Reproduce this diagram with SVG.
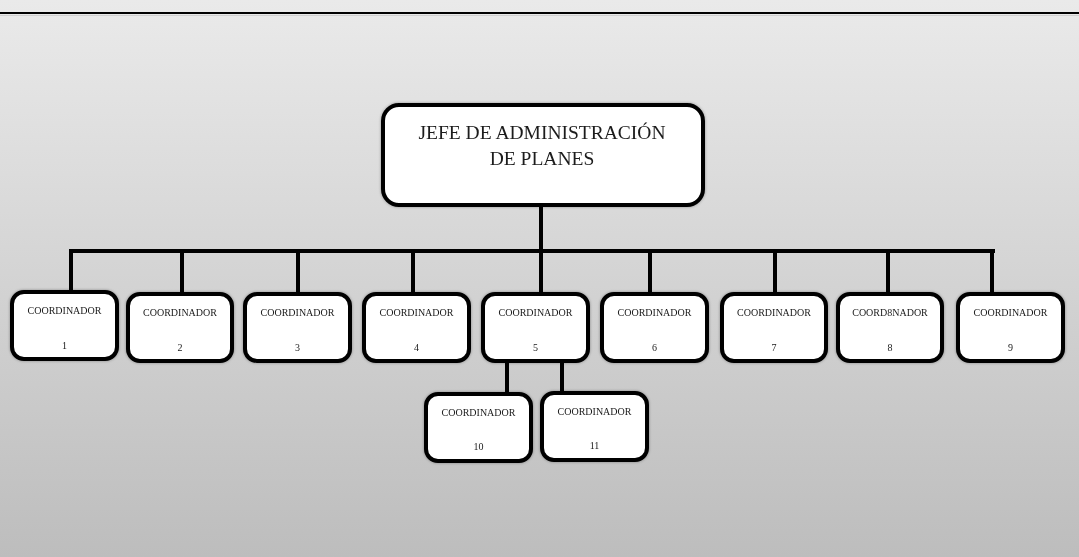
<svg xmlns="http://www.w3.org/2000/svg" width="1079" height="557" viewBox="0 0 1079 557">
<defs>
<linearGradient id="bg" x1="0" y1="0" x2="0" y2="1">
<stop offset="0" stop-color="#eaeaea"/>
<stop offset="1" stop-color="#bdbdbd"/>
</linearGradient>
<filter id="sh" x="-10%" y="-10%" width="120%" height="120%">
<feGaussianBlur in="SourceAlpha" stdDeviation="1.5"/>
<feOffset dx="0" dy="0" result="b"/>
<feComponentTransfer><feFuncA type="linear" slope="0.35"/></feComponentTransfer>
<feMerge><feMergeNode/><feMergeNode in="SourceGraphic"/></feMerge>
</filter>
</defs>
<style>
.box{fill:#ffffff;stroke:#000000;stroke-width:4}
.ln{stroke:#000000;stroke-width:4;fill:none;stroke-linecap:square}
.t{font-family:"Liberation Serif","Times New Roman",serif;fill:#1a1a1a;text-anchor:middle}
.s{font-size:10px}
.big{font-size:19.5px}
</style>
<rect x="0" y="0" width="1079" height="557" fill="url(#bg)"/>
<line x1="0" y1="13" x2="1079" y2="13" stroke="#000" stroke-width="2.2"/>
<line x1="0" y1="15.5" x2="1079" y2="15.5" stroke="#cfcfcf" stroke-width="1"/>
<g id="connectors">
<line class="ln" x1="541" y1="206" x2="541" y2="251"/>
<line class="ln" x1="71" y1="251" x2="993" y2="251"/>
<line class="ln" x1="71" y1="251" x2="71" y2="292"/>
<line class="ln" x1="182" y1="251" x2="182" y2="293"/>
<line class="ln" x1="298" y1="251" x2="298" y2="293"/>
<line class="ln" x1="413" y1="251" x2="413" y2="293"/>
<line class="ln" x1="541" y1="251" x2="541" y2="293"/>
<line class="ln" x1="650" y1="251" x2="650" y2="293"/>
<line class="ln" x1="775" y1="251" x2="775" y2="293"/>
<line class="ln" x1="888" y1="251" x2="888" y2="293"/>
<line class="ln" x1="992" y1="251" x2="992" y2="293"/>
<line class="ln" x1="507" y1="361" x2="507" y2="393"/>
<line class="ln" x1="562" y1="361" x2="562" y2="392"/>
</g>
<g id="jefe" filter="url(#sh)">
<rect class="box" x="383" y="105" width="320" height="100" rx="16"/>
<text class="t big" x="542" y="139">JEFE DE ADMINISTRACIÓN</text>
<text class="t big" x="542" y="165">DE PLANES</text>
</g>
<g id="c1" filter="url(#sh)"><rect class="box" x="12" y="292" width="105" height="67" rx="12"/><text class="t s" x="64.5" y="314">COORDINADOR</text><text class="t s" x="64.5" y="349">1</text></g>
<g id="c2" filter="url(#sh)"><rect class="box" x="128" y="294" width="104" height="67" rx="12"/><text class="t s" x="180" y="316">COORDINADOR</text><text class="t s" x="180" y="351">2</text></g>
<g id="c3" filter="url(#sh)"><rect class="box" x="245" y="294" width="105" height="67" rx="12"/><text class="t s" x="297.5" y="316">COORDINADOR</text><text class="t s" x="297.5" y="351">3</text></g>
<g id="c4" filter="url(#sh)"><rect class="box" x="364" y="294" width="105" height="67" rx="12"/><text class="t s" x="416.5" y="316">COORDINADOR</text><text class="t s" x="416.5" y="351">4</text></g>
<g id="c5" filter="url(#sh)"><rect class="box" x="483" y="294" width="105" height="67" rx="12"/><text class="t s" x="535.5" y="316">COORDINADOR</text><text class="t s" x="535.5" y="351">5</text></g>
<g id="c6" filter="url(#sh)"><rect class="box" x="602" y="294" width="105" height="67" rx="12"/><text class="t s" x="654.5" y="316">COORDINADOR</text><text class="t s" x="654.5" y="351">6</text></g>
<g id="c7" filter="url(#sh)"><rect class="box" x="722" y="294" width="104" height="67" rx="12"/><text class="t s" x="774" y="316">COORDINADOR</text><text class="t s" x="774" y="351">7</text></g>
<g id="c8" filter="url(#sh)"><rect class="box" x="838" y="294" width="104" height="67" rx="12"/><text class="t s" x="890" y="316">COORD8NADOR</text><text class="t s" x="890" y="351">8</text></g>
<g id="c9" filter="url(#sh)"><rect class="box" x="958" y="294" width="105" height="67" rx="12"/><text class="t s" x="1010.5" y="316">COORDINADOR</text><text class="t s" x="1010.5" y="351">9</text></g>
<g id="c10" filter="url(#sh)"><rect class="box" x="426" y="394" width="105" height="67" rx="12"/><text class="t s" x="478.5" y="416">COORDINADOR</text><text class="t s" x="478.5" y="450">10</text></g>
<g id="c11" filter="url(#sh)"><rect class="box" x="542" y="393" width="105" height="67" rx="12"/><text class="t s" x="594.5" y="415">COORDINADOR</text><text class="t s" x="594.5" y="449">11</text></g>
</svg>
